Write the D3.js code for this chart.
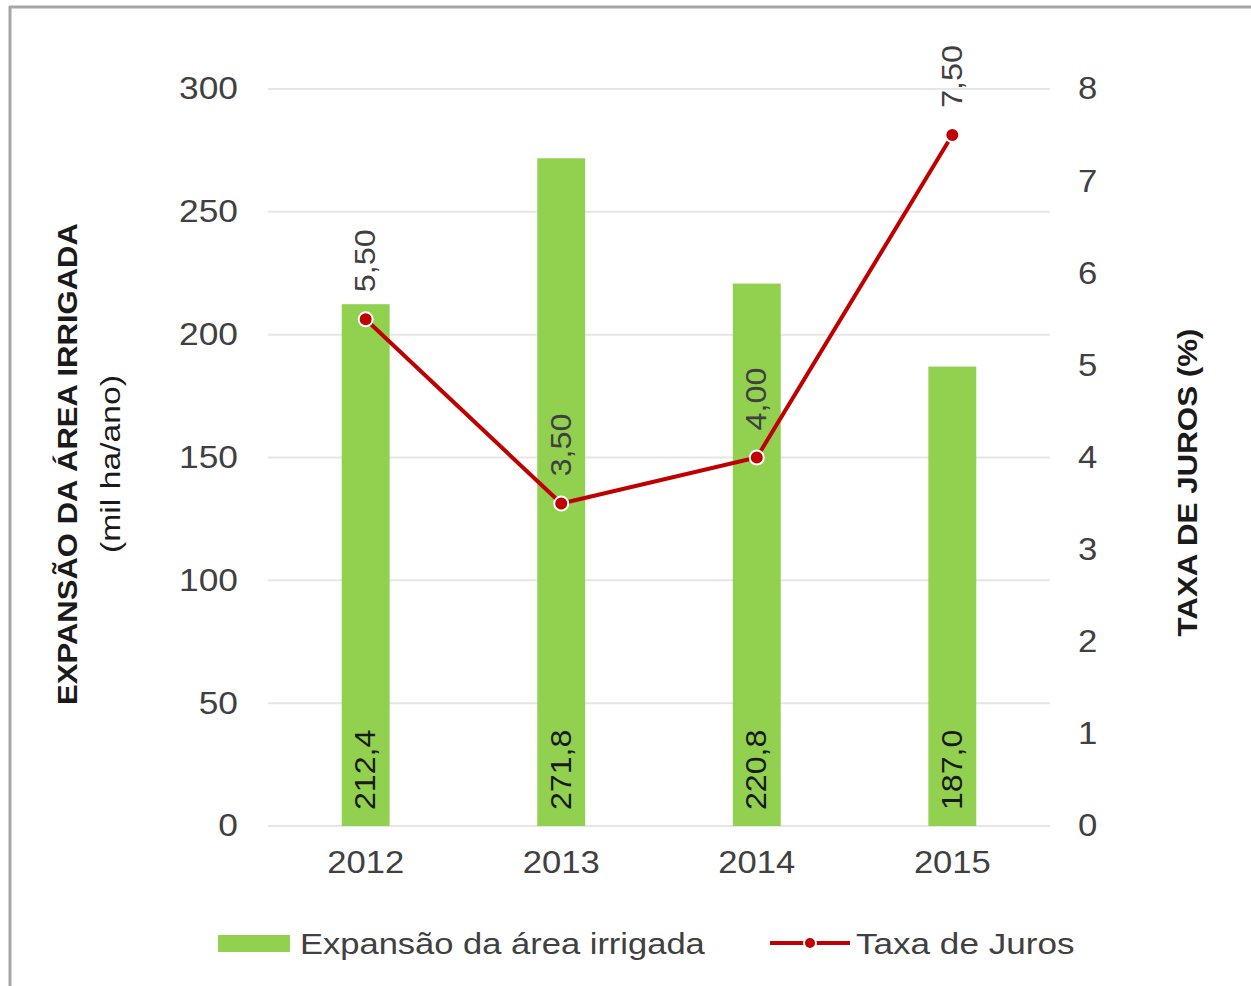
<!DOCTYPE html>
<html><head><meta charset="utf-8">
<script src="https://cdn.jsdelivr.net/npm/d3@7"></script>
<style>body{margin:0;background:#fff}svg{display:block;font-family:"Liberation Sans",Arial,sans-serif}</style>
</head><body>
<svg id="c" width="1251" height="986"></svg>
<script>
const years = ["2012","2013","2014","2015"];
const area = [212.4, 271.8, 220.8, 187.0];
const juros = [5.50, 3.50, 4.00, 7.50];
const leftTicks = [0,50,100,150,200,250,300];
const rightTicks = [0,1,2,3,4,5,6,7,8];
const fmt1 = v => d3.format(".1f")(v).replace(".", ",");
const fmt2 = v => d3.format(".2f")(v).replace(".", ",");

const svg = d3.select("#c");
const W = 1251, H = 986;
const L = 268, R = 1050, T = 89, B = 826;

function stretch(sel, k){
  sel.each(function(){
    const w = this.getComputedTextLength();
    d3.select(this).attr("textLength", w*k).attr("lengthAdjust","spacingAndGlyphs");
  });
}

// frame (top and left only)
svg.append("line").attr("x1",9).attr("x2",W).attr("y1",7).attr("y2",7).attr("stroke","#a6a6a6").attr("stroke-width",3);
svg.append("line").attr("x1",10).attr("x2",10).attr("y1",6).attr("y2",H).attr("stroke","#a6a6a6").attr("stroke-width",3);

const x = d3.scaleBand().domain(years).range([L,R]).paddingInner(0.755).paddingOuter(0.377);
const yL = d3.scaleLinear().domain([0,300]).range([B,T]);
const yR = d3.scaleLinear().domain([0,8]).range([B,T]);

// grid
svg.append("g").selectAll("line").data(leftTicks).join("line")
  .attr("x1",L).attr("x2",R).attr("y1",d=>yL(d)).attr("y2",d=>yL(d))
  .attr("stroke","#e6e6e6").attr("stroke-width",2);

const tickStyle = s => s.attr("font-size",31).attr("fill","#404040").attr("font-family","Liberation Sans, Arial, sans-serif");

// left axis
const ga = svg.append("g").attr("transform",`translate(${L},0)`)
  .call(d3.axisLeft(yL).tickValues(leftTicks).tickSize(0).tickPadding(30));
ga.select(".domain").remove();
ga.selectAll("text").call(tickStyle).call(stretch,1.14);

// right axis
const gr = svg.append("g").attr("transform",`translate(${R},0)`)
  .call(d3.axisRight(yR).tickValues(rightTicks).tickSize(0).tickPadding(28));
gr.select(".domain").remove();
gr.selectAll("text").call(tickStyle).call(stretch,1.12);

// bottom axis
const gb = svg.append("g").attr("transform",`translate(0,${B})`)
  .call(d3.axisBottom(x).tickSize(0).tickPadding(24));
gb.select(".domain").remove();
gb.selectAll("text").call(tickStyle).attr("font-size",32).call(stretch,1.08);

// bars
svg.append("g").selectAll("rect").data(years).join("rect")
  .attr("x",d=>x(d)).attr("width",x.bandwidth())
  .attr("y",(d,i)=>yL(area[i])).attr("height",(d,i)=>B-yL(area[i]))
  .attr("fill","#92D050");

// bar labels
svg.append("g").selectAll("text").data(years).join("text")
  .attr("transform",d=>`translate(${x(d)+x.bandwidth()/2-1},${B-16}) rotate(-90)`)
  .attr("text-anchor","start").attr("dominant-baseline","central")
  .attr("font-size",30).attr("fill","#1a1a1a")
  .text((d,i)=>fmt1(area[i])).call(stretch,1.07);

// line
const cx = d => x(d)+x.bandwidth()/2;
svg.append("path").datum(years)
  .attr("d", d3.line().x(d=>cx(d)).y((d,i)=>yR(juros[i])))
  .attr("fill","none").attr("stroke","#C00000").attr("stroke-width",4);
svg.append("g").selectAll("circle").data(years).join("circle")
  .attr("cx",d=>cx(d)).attr("cy",(d,i)=>yR(juros[i])).attr("r",7)
  .attr("fill","#C00000").attr("stroke","#fff").attr("stroke-width",2);

// line labels
svg.append("g").selectAll("text").data(years).join("text")
  .attr("transform",(d,i)=>`translate(${cx(d)-1},${yR(juros[i])-27}) rotate(-90)`)
  .attr("text-anchor","start").attr("dominant-baseline","central")
  .attr("font-size",30).attr("fill","#404040")
  .text((d,i)=>fmt2(juros[i])).call(stretch,1.08);

// axis titles
const titleStyle = s => s.attr("text-anchor","middle").attr("dominant-baseline","central")
  .attr("font-size",27).attr("font-weight","bold").attr("fill","#1a1a1a");
svg.append("text").attr("transform",`translate(68,${(223+705)/2}) rotate(-90)`)
  .call(titleStyle).text("EXPANSÃO DA ÁREA IRRIGADA").call(stretch,1.15);
svg.append("text").attr("transform",`translate(110,${(375+553)/2}) rotate(-90)`)
  .call(titleStyle).attr("font-weight","normal").attr("font-size",28)
  .text("(mil ha/ano)").attr("textLength",178).attr("lengthAdjust","spacingAndGlyphs");
svg.append("text").attr("transform",`translate(1188,${(330+635)/2}) rotate(-90)`)
  .call(titleStyle).text("TAXA DE JUROS (%)").call(stretch,1.16);

// legend
svg.append("rect").attr("x",218).attr("y",935).attr("width",72).attr("height",17).attr("fill","#92D050");
svg.append("text").attr("x",300).attr("y",944).attr("dominant-baseline","central")
  .attr("font-size",29).attr("fill","#404040").text("Expansão da área irrigada").call(stretch,1.19);
svg.append("line").attr("x1",770).attr("x2",850).attr("y1",943).attr("y2",943).attr("stroke","#C00000").attr("stroke-width",4);
svg.append("circle").attr("cx",810).attr("cy",943).attr("r",6).attr("fill","#C00000").attr("stroke","#fff").attr("stroke-width",2);
svg.append("text").attr("x",856).attr("y",944).attr("dominant-baseline","central")
  .attr("font-size",29).attr("fill","#404040").text("Taxa de Juros").call(stretch,1.21);
</script>
</body></html>
